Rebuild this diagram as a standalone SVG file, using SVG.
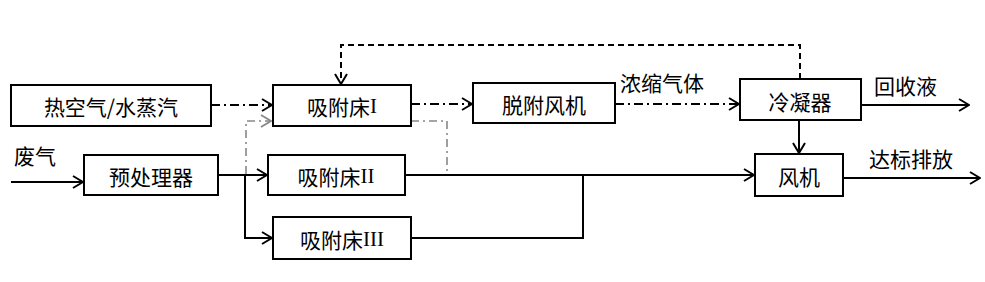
<svg xmlns="http://www.w3.org/2000/svg" width="985" height="282" viewBox="0 0 985 282">
<style>
.box{fill:#fff;stroke:#000;stroke-width:2}
.t{font-family:"Noto Sans CJK SC","Liberation Sans",sans-serif;font-size:21px;fill:#000;text-anchor:middle;dominant-baseline:central}
.lb{font-family:"Noto Sans CJK SC","Liberation Sans",sans-serif;font-size:21px;fill:#000;dominant-baseline:central}
.r{font-family:"Liberation Serif",serif}
.solid{fill:none;stroke:#000;stroke-width:2}
.dd{fill:none;stroke:#000;stroke-width:2;stroke-dasharray:9 4 2 4}
.dash{fill:none;stroke:#000;stroke-width:2;stroke-dasharray:6 4}
.gray{fill:none;stroke:#888;stroke-width:1.6;stroke-dasharray:8 4 2 4}
</style>
<defs>
<marker id="ar" markerUnits="userSpaceOnUse" viewBox="0 0 12 14" refX="11" refY="7" markerWidth="12" markerHeight="14" orient="auto">
<path d="M1,1 L11,7 L1,13" fill="none" stroke="#000" stroke-width="2"/>
</marker>
<marker id="arg" markerUnits="userSpaceOnUse" viewBox="0 0 12 14" refX="11" refY="7" markerWidth="12" markerHeight="14" orient="auto">
<path d="M1,1 L11,7 L1,13" fill="none" stroke="#888" stroke-width="1.8"/>
</marker>
</defs>
<rect width="985" height="282" fill="#fff"/>
<g id="connectors">
<path class="gray" d="M246,174 V121 H271" marker-end="url(#arg)"/>
<path class="gray" d="M411,121 H447 V175"/>
<path class="solid" d="M11,182 H83" marker-end="url(#ar)"/>
<path class="solid" d="M218,175 H267" marker-end="url(#ar)"/>
<path class="solid" d="M245,175 V238 H272" marker-end="url(#ar)"/>
<path class="dd" d="M211,105 H272" marker-end="url(#ar)"/>
<path class="dd" d="M411,104 H472" marker-end="url(#ar)"/>
<path class="dd" d="M615,104 H739" marker-end="url(#ar)"/>
<path class="dash" d="M800,79 V45 H341 V84" marker-end="url(#ar)"/>
<path class="solid" d="M861,105 H969" marker-end="url(#ar)"/>
<path class="solid" d="M799,120 V153" marker-end="url(#ar)"/>
<path class="solid" d="M405,175 H754" marker-end="url(#ar)"/>
<path class="solid" d="M411,238 H583 V175"/>
<path class="solid" d="M843,178 H980" marker-end="url(#ar)"/>
</g>
<g id="hot"><rect class="box" x="11" y="85" width="200" height="41"/><text class="t" x="111" y="106">热空气/水蒸汽</text></g>
<g id="bed1"><rect class="box" x="273" y="85" width="138" height="41"/><text class="t" x="342" y="106">吸附床<tspan class="r">I</tspan></text></g>
<g id="desorb"><rect class="box" x="473" y="83" width="142" height="40"/><text class="t" x="544" y="104">脱附风机</text></g>
<g id="cond"><rect class="box" x="740" y="79" width="121" height="41"/><text class="t" x="800" y="101">冷凝器</text></g>
<g id="pre"><rect class="box" x="84" y="155" width="134" height="40"/><text class="t" x="151" y="176">预处理器</text></g>
<g id="bed2"><rect class="box" x="268" y="155" width="137" height="40"/><text class="t" x="336" y="176">吸附床<tspan class="r">II</tspan></text></g>
<g id="bed3"><rect class="box" x="273" y="217" width="138" height="42"/><text class="t" x="342" y="239">吸附床<tspan class="r">III</tspan></text></g>
<g id="fan"><rect class="box" x="755" y="154" width="88" height="42"/><text class="t" x="799" y="176">风机</text></g>
<g id="labels">
<text class="lb" x="14" y="155">废气</text>
<text class="lb" x="620" y="82">浓缩气体</text>
<text class="lb" x="874" y="85">回收液</text>
<text class="lb" x="869" y="158">达标排放</text>
</g>
</svg>
